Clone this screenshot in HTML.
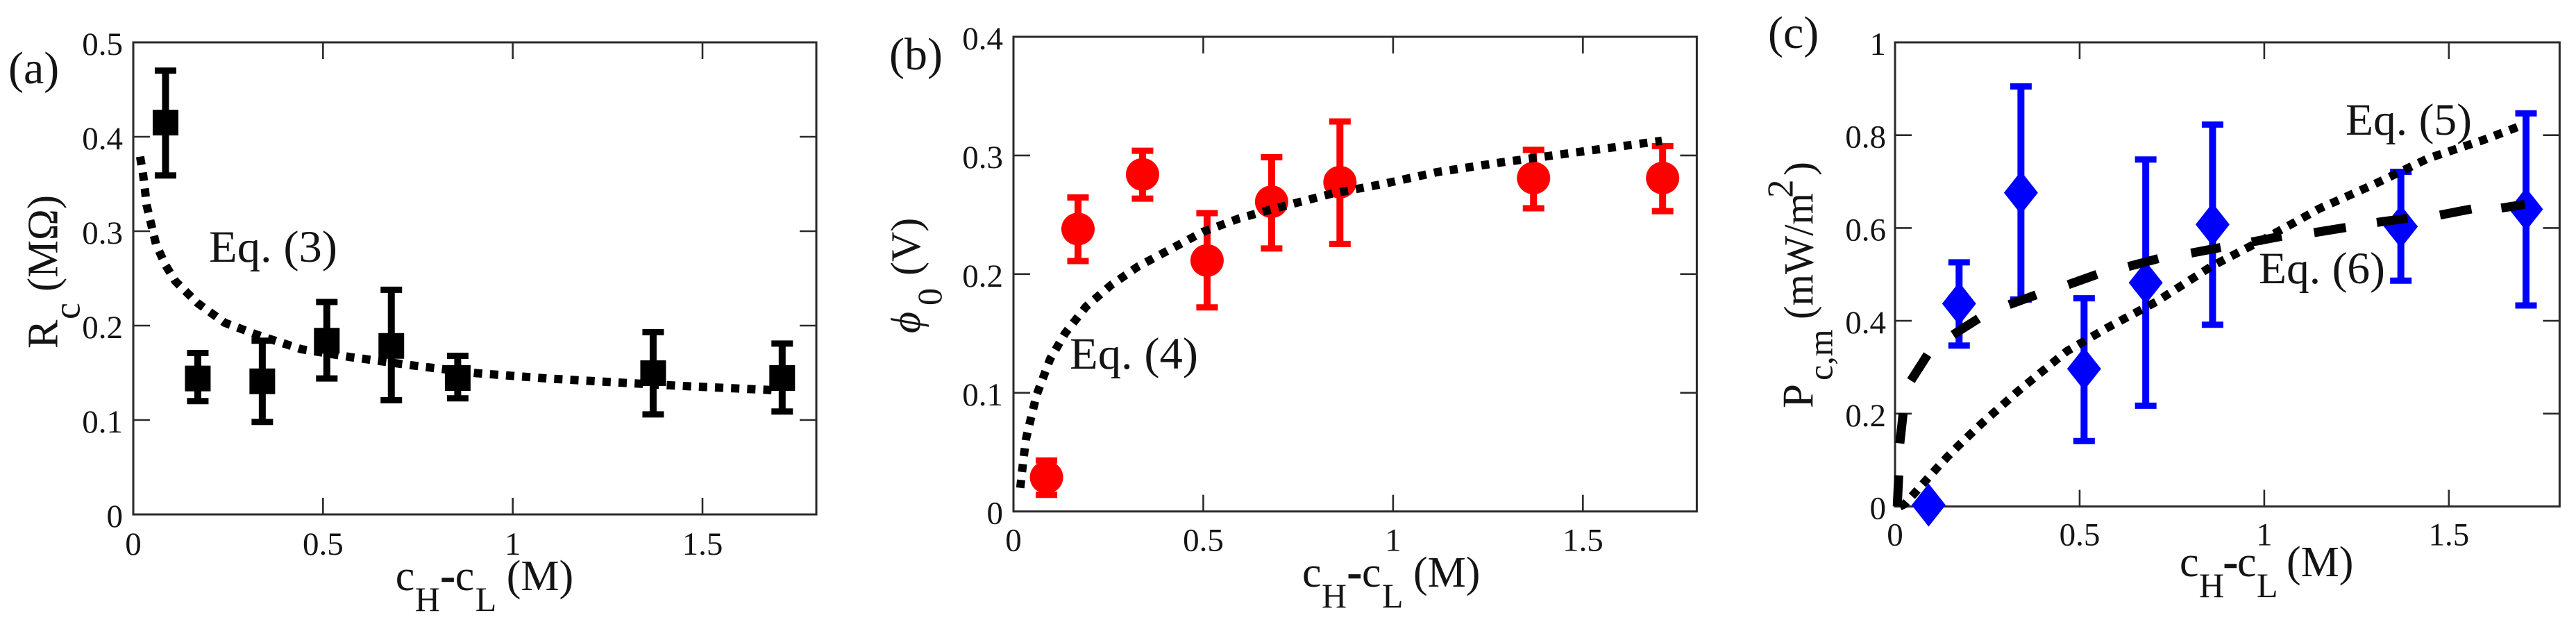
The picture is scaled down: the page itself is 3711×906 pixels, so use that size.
<!DOCTYPE html>
<html lang="en">
<head>
<meta charset="utf-8">
<title>Rc, phi0 and Pc,m versus concentration difference</title>
<style>
html,body{margin:0;padding:0;background:#fff;}
svg{display:block;}
text{font-family:"Liberation Serif","DejaVu Serif",serif;fill:#141414;}
</style>
</head>
<body>
<svg id="chart" xmlns="http://www.w3.org/2000/svg" width="3711" height="906" viewBox="0 0 3711 906">
  <rect x="0" y="0" width="3711" height="906" fill="#ffffff"/>
  <g id="panel-a"></g>
  <g id="panel-b"></g>
  <g id="panel-c"></g>

  <g id="labels">
    <text x="12" y="120" font-size="66">(a)</text>
    <text x="1281" y="100" font-size="66">(b)</text>
    <text x="2547" y="69" font-size="66">(c)</text>

    <text x="301" y="377" font-size="65" textLength="185" lengthAdjust="spacingAndGlyphs">Eq. (3)</text>
    <text x="1541" y="531" font-size="65" textLength="185" lengthAdjust="spacingAndGlyphs">Eq. (4)</text>
    <text x="3379" y="194" font-size="65" textLength="182" lengthAdjust="spacingAndGlyphs">Eq. (5)</text>
    <text x="3254" y="408" font-size="65" textLength="182" lengthAdjust="spacingAndGlyphs">Eq. (6)</text>

    <g transform="translate(570.7,850)">
      <text x="-1" y="0" font-size="62">c</text><text x="27" y="30" font-size="50">H</text><text x="64" y="0" font-size="62" stroke="#141414" stroke-width="1.5">-</text><text x="85" y="0" font-size="62">c</text><text x="114" y="30" font-size="50">L</text><text x="159" y="0" font-size="62">(M)</text>
    </g>
    <g transform="translate(1877,845)">
      <text x="-1" y="0" font-size="62">c</text><text x="27" y="30" font-size="50">H</text><text x="64" y="0" font-size="62" stroke="#141414" stroke-width="1.5">-</text><text x="85" y="0" font-size="62">c</text><text x="114" y="30" font-size="50">L</text><text x="159" y="0" font-size="62">(M)</text>
    </g>
    <g transform="translate(3141,830)">
      <text x="-1" y="0" font-size="62">c</text><text x="27" y="30" font-size="50">H</text><text x="62" y="0" font-size="62" stroke="#141414" stroke-width="1.5">-</text><text x="82" y="0" font-size="62">c</text><text x="110" y="30" font-size="50">L</text><text x="153" y="0" font-size="62">(M)</text>
    </g>

    <g transform="translate(82.7,502) rotate(-90)">
      <text x="0" y="0" font-size="62">R</text><text x="42" y="32" font-size="54">c</text><text x="82" y="0" font-size="62" textLength="139" lengthAdjust="spacingAndGlyphs">(MΩ)</text>
    </g>
    <g transform="translate(1325,480) rotate(-90)">
      <text x="0" y="0" font-size="60" font-style="italic">ϕ</text><text x="40" y="31" font-size="50">0</text><text x="83" y="0" font-size="60">(V)</text>
    </g>
    <g transform="translate(2611.7,588) rotate(-90)">
      <text x="0" y="0" font-size="63">P</text><text x="40" y="28" font-size="50">c,m</text><text x="128" y="0" font-size="60" textLength="182" lengthAdjust="spacingAndGlyphs">(mW/m</text><text x="303" y="-29" font-size="53">2</text><text x="335" y="0" font-size="60">)</text>
    </g>
  </g>
</svg>

<script>
// ---------- shared x-axis ticks ----------
const xTickValues = [0, 0.5, 1, 1.5];
const xTickLabels = ["0", "0.5", "1", "1.5"];

// ---------- panel (a) data ----------
const aConc = [0.085, 0.17, 0.34, 0.51, 0.68, 0.855, 1.37, 1.71];
const aRc = [0.415, 0.144, 0.141, 0.184, 0.1785, 0.1445, 0.1496, 0.1445];
const aErrHigh = [0.470, 0.171, 0.184, 0.225, 0.238, 0.168, 0.193, 0.181];
const aErrLow = [0.359, 0.120, 0.098, 0.144, 0.121, 0.123, 0.106, 0.109];
const aFitX = [0.018, 0.025, 0.0305, 0.035, 0.045, 0.06, 0.085, 0.111, 0.169, 0.241, 0.328, 0.443, 0.573, 0.732, 0.905, 1.092, 1.266, 1.45, 1.67, 1.70];
const aFitY = [0.379, 0.3625, 0.345, 0.328, 0.311, 0.286, 0.264, 0.247, 0.224, 0.203, 0.190, 0.175, 0.1666, 0.158, 0.1496, 0.144, 0.140, 0.136, 0.132, 0.131];
const aYTickValues = [0, 0.1, 0.2, 0.3, 0.4, 0.5];
const aYTickLabels = ["0", "0.1", "0.2", "0.3", "0.4", "0.5"];

// ---------- panel (b) data ----------
const bConc = [0.087, 0.17, 0.34, 0.51, 0.68, 0.86, 1.37, 1.71];
const bPhi = [0.0288, 0.238, 0.284, 0.2115, 0.261, 0.2775, 0.281, 0.281];
const bErrHigh = [0.043, 0.2646, 0.304, 0.2514, 0.2985, 0.3286, 0.3047, 0.3079];
const bErrLow = [0.014, 0.211, 0.2636, 0.172, 0.2216, 0.2254, 0.2555, 0.2531];
const bFitX = [0.018, 0.0225, 0.0274, 0.0329, 0.0426, 0.0607, 0.0968, 0.137, 0.191, 0.256, 0.328, 0.4075, 0.501, 0.595, 0.682, 0.841, 0.971, 1.116, 1.275, 1.448, 1.592, 1.708];
const bFitY = [0.0199, 0.0332, 0.0468, 0.0608, 0.0741, 0.098, 0.1286, 0.1506, 0.1726, 0.1905, 0.2064, 0.22, 0.2359, 0.247, 0.2548, 0.268, 0.2758, 0.286, 0.2937, 0.3012, 0.3073, 0.3124];
const bYTickValues = [0, 0.1, 0.2, 0.3, 0.4];
const bYTickLabels = ["0", "0.1", "0.2", "0.3", "0.4"];

// ---------- panel (c) data ----------
const cConc = [0.091, 0.1735, 0.341, 0.512, 0.679, 0.86, 1.37, 1.709];
const cPower = [0.003, 0.437, 0.676, 0.2965, 0.482, 0.6076, 0.603, 0.6405];
const cErrHigh = [0.003, 0.526, 0.905, 0.4486, 0.7476, 0.823, 0.721, 0.847];
const cErrLow = [0.003, 0.3466, 0.446, 0.141, 0.217, 0.3915, 0.4866, 0.433];
const cFit5X = [0.013, 0.026, 0.056, 0.085, 0.113, 0.142, 0.172, 0.203, 0.235, 0.334, 0.466, 0.576, 0.709, 0.856, 1.003, 1.15, 1.297, 1.444, 1.591, 1.701];
const cFit5Y = [0, 0.005, 0.0314, 0.0574, 0.0823, 0.107, 0.131, 0.155, 0.179, 0.249, 0.335, 0.3855, 0.4417, 0.5169, 0.5774, 0.642, 0.694, 0.75, 0.789, 0.822];
// Eq. (6) is read dash by dash: each consecutive pair of points is one visible dash.
const cFit6X = [0.006, 0.010, 0.013, 0.022, 0.043, 0.088, 0.157, 0.226, 0.309, 0.382, 0.469, 0.547, 0.632, 0.713, 0.802, 0.882, 0.966, 1.047, 1.135, 1.221, 1.305, 1.388, 1.476, 1.561, 1.642, 1.706];
const cFit6Y = [0, 0.067, 0.136, 0.201, 0.271, 0.327, 0.37, 0.405, 0.435, 0.456, 0.478, 0.5, 0.517, 0.534, 0.546, 0.558, 0.57, 0.582, 0.59, 0.601, 0.612, 0.621, 0.628, 0.641, 0.643, 0.651];
const cYTickValues = [0, 0.2, 0.4, 0.6, 0.8, 1];
const cYTickLabels = ["0", "0.2", "0.4", "0.6", "0.8", "1"];

const NS = "http://www.w3.org/2000/svg";
const X_MAX = 1.8;

function make(parent, tag, attrs, content) {
  const node = document.createElementNS(NS, tag);
  for (const k in attrs) node.setAttribute(k, attrs[k]);
  if (content !== undefined) node.textContent = content;
  parent.appendChild(node);
  return node;
}

function drawAxes(g, box, sx, sy, yVals, yLabs) {
  const frame = make(g, "rect", {x: box.left, y: box.top, width: box.right - box.left, height: box.bottom - box.top, fill: "none", stroke: "#2a2a2a", "stroke-width": 3});
  
  
  xTickValues.forEach(function (v, i) {
    const x = sx(v);
    if (v > 0) {
      const t1 = make(g, "line", {x1: x, x2: x, y1: box.bottom, y2: box.bottom - 24, stroke: "#2a2a2a", "stroke-width": 2.6});
      
      
      const t2 = make(g, "line", {x1: x, x2: x, y1: box.top, y2: box.top + 24, stroke: "#2a2a2a", "stroke-width": 2.6});
      
      
    }
    const lab = make(g, "text", {x: x, y: box.bottom + box.xLabelDy, "font-size": 47, "text-anchor": "middle"}, xTickLabels[i]);
    
    
  });
  yVals.forEach(function (v, i) {
    const y = sy(v);
    if (v > 0 && v < box.yMax) {
      const t1 = make(g, "line", {x1: box.left, x2: box.left + 24, y1: y, y2: y, stroke: "#2a2a2a", "stroke-width": 2.6});
      
      
      const t2 = make(g, "line", {x1: box.right, x2: box.right - 24, y1: y, y2: y, stroke: "#2a2a2a", "stroke-width": 2.6});
      
      
    }
    const lab = make(g, "text", {x: box.left - box.yLabelGap, y: y + 18, "font-size": 47, "text-anchor": "end"}, yLabs[i]);
    
    
  });
}

function drawErrors(g, xs, hi, lo, sx, sy, color) {
  xs.forEach(function (v, i) {
    if (hi[i] === lo[i]) return;
    const x = sx(v), yh = sy(hi[i]), yl = sy(lo[i]);
    const stem = make(g, "line", {x1: x, x2: x, y1: yh, y2: yl, stroke: color, "stroke-width": 10});
    
    
    const capT = make(g, "line", {x1: x - 15.5, x2: x + 15.5, y1: yh, y2: yh, stroke: color, "stroke-width": 9});
    
    
    const capB = make(g, "line", {x1: x - 15.5, x2: x + 15.5, y1: yl, y2: yl, stroke: color, "stroke-width": 9});
    
    
  });
}

function drawCurve(g, xs, ys, sx, sy, width, dash, name) {
  const pts = xs.map(function (v, i) { return sx(v).toFixed(1) + "," + sy(ys[i]).toFixed(1); }).join(" ");
  const line = make(g, "polyline", {points: pts, fill: "none", stroke: "#000", "stroke-width": width, "stroke-dasharray": dash, "stroke-linejoin": "round"});
  
  
}

function drawDashPairs(g, xs, ys, sx, sy, width, name) {
  let d = "";
  xs.forEach(function (v, i) {
    d += (i % 2 === 0 ? "M" : "L") + sx(v).toFixed(1) + " " + sy(ys[i]).toFixed(1) + " ";
  });
  const line = make(g, "path", {d: d, fill: "none", stroke: "#000", "stroke-width": width});
  
  
}

function scales(box) {
  return {
    sx: function (v) { return box.left + v * (box.right - box.left) / X_MAX; },
    sy: function (v) { return box.bottom - v * (box.bottom - box.top) / box.yMax; }
  };
}

// ----- panel a -----
(function () {
  const g = document.getElementById("panel-a");
  const box = {left: 192, right: 1176, top: 61, bottom: 741, yMax: 0.5, xLabelDy: 58, yLabelGap: 15};
  const s = scales(box);
  drawAxes(g, box, s.sx, s.sy, aYTickValues, aYTickLabels);
  drawErrors(g, aConc, aErrHigh, aErrLow, s.sx, s.sy, "#000");
  aConc.forEach(function (v, i) {
    const m = make(g, "rect", {x: s.sx(v) - 18.5, y: s.sy(aRc[i]) - 18.5, width: 37, height: 37, fill: "#000"});
    
    
  });
  drawCurve(g, aFitX, aFitY, s.sx, s.sy, 12, "12 11.2", "eq-3-fit-curve");
})();

// ----- panel b -----
(function () {
  const g = document.getElementById("panel-b");
  const box = {left: 1460, right: 2444.4, top: 53, bottom: 736.7, yMax: 0.4, xLabelDy: 57, yLabelGap: 15};
  const s = scales(box);
  drawAxes(g, box, s.sx, s.sy, bYTickValues, bYTickLabels);
  drawErrors(g, bConc, bErrHigh, bErrLow, s.sx, s.sy, "#ff0000");
  bConc.forEach(function (v, i) {
    const m = make(g, "ellipse", {cx: s.sx(v), cy: s.sy(bPhi[i]), rx: 24, ry: 23.5, fill: "#ff0000"});
    
    
  });
  drawCurve(g, bFitX, bFitY, s.sx, s.sy, 12, "11.5 11.5", "eq-4-fit-curve");
})();

// ----- panel c -----
(function () {
  const g = document.getElementById("panel-c");
  const box = {left: 2730, right: 3687.4, top: 61, bottom: 729.5, yMax: 1, xLabelDy: 56, yLabelGap: 13};
  const s = scales(box);
  drawAxes(g, box, s.sx, s.sy, cYTickValues, cYTickLabels);
  drawErrors(g, cConc, cErrHigh, cErrLow, s.sx, s.sy, "#0000ff");
  cConc.forEach(function (v, i) {
    const x = s.sx(v), y = s.sy(cPower[i]);
    const pts = [x, y - 31, x + 24.5, y, x, y + 31, x - 24.5, y].join(" ");
    const m = make(g, "polygon", {points: pts, fill: "#0000ff"});
    
    
  });
  drawCurve(g, cFit5X, cFit5Y, s.sx, s.sy, 12, "12 11.2", "eq-5-fit-curve");
  drawDashPairs(g, cFit6X, cFit6Y, s.sx, s.sy, 13, "eq-6-fit-curve");
})();
</script>
</body>
</html>
